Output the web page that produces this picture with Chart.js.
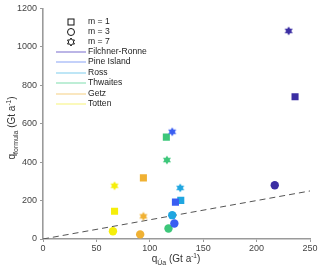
<!DOCTYPE html>
<html>
<head>
<meta charset="utf-8">
<script src="https://cdn.jsdelivr.net/npm/chart.js@4.4.0/dist/chart.umd.min.js"></script>
<style>
  html, body { margin: 0; padding: 0; background: #fff; }
  #wrap { width: 320px; height: 269px; }
</style>
</head>
<body>
<div id="wrap"><canvas id="qChart" width="320" height="269"></canvas></div>
<script>
// ice shelves, plotted in this order
const regions = ['Filchner-Ronne', 'Pine Island', 'Ross', 'Thwaites', 'Getz', 'Totten'];
const regionColors = ['#3b2ea3', '#3a5ef2', '#20a6e0', '#3dc77a', '#f0b133', '#f5ee0a'];
const legendLineColors = ['#8d84d6', '#9cb2f7', '#93d6f0', '#93e2bb', '#f6d795', '#f8f58e'];

// m = 1 (squares)
const qUa_m1 = [236, 124, 129, 115.5, 94, 67];
const qFormula_m1 = [740, 192, 201, 530, 318, 144];
// m = 3 (circles)
const qUa_m3 = [217, 123, 121, 117.5, 91, 65.5];
const qFormula_m3 = [280, 81, 124, 55, 24, 40];
// m = 7 (hexagrams)
const qUa_m7 = [230, 121, 128.5, 116, 94, 67];
const qFormula_m7 = [1083, 558, 266, 411, 118, 277];

// 1:1 reference line
const oneToOne = [0, 250];

const xTicks = [0, 50, 100, 150, 200, 250];
const yTicks = [0, 200, 400, 600, 800, 1000, 1200];

const FONT = 'Liberation Sans, Arial, sans-serif';

function hexagramPath(ctx, cx, cy, r) {
  const ri = r / Math.sqrt(3);
  ctx.beginPath();
  for (let k = 0; k < 12; k++) {
    const a = -Math.PI / 2 + k * Math.PI / 6;
    const rr = k % 2 === 0 ? r : ri;
    const px = cx + rr * Math.cos(a), py = cy + rr * Math.sin(a);
    if (k === 0) ctx.moveTo(px, py); else ctx.lineTo(px, py);
  }
  ctx.closePath();
}

function hexagramImage(color) {
  const c = document.createElement('canvas');
  c.width = 10; c.height = 10;
  const g = c.getContext('2d');
  hexagramPath(g, 5, 5, 4.6);
  g.fillStyle = color;
  g.fill();
  return c;
}

const datasets = [];
regions.forEach((name, i) => {
  datasets.push({
    label: name + ' m=1', data: [{ x: qUa_m1[i], y: qFormula_m1[i] }],
    pointStyle: 'rect', pointRadius: 5, backgroundColor: regionColors[i], borderColor: regionColors[i], borderWidth: 0
  });
  datasets.push({
    label: name + ' m=3', data: [{ x: qUa_m3[i], y: qFormula_m3[i] }],
    pointStyle: 'circle', pointRadius: 4.2, backgroundColor: regionColors[i], borderColor: regionColors[i], borderWidth: 0
  });
  datasets.push({
    label: name + ' m=7', data: [{ x: qUa_m7[i], y: qFormula_m7[i] }],
    pointStyle: hexagramImage(regionColors[i])
  });
});
datasets.push({
  type: 'line', label: '1:1',
  data: oneToOne.map(v => ({ x: v, y: v })),
  borderColor: '#555', borderWidth: 1, borderDash: [6, 4], pointRadius: 0, fill: false
});

// legend + axis titles with sub/superscripts
const decor = {
  id: 'decor',
  afterDraw(chart) {
    const ctx = chart.ctx;
    ctx.save();
    const lx0 = 56, lx1 = 86, tx = 88;
    const rowY = [22, 32, 42, 52, 62, 73, 83, 94, 104];
    const shapeLabels = ['m = 1', 'm = 3', 'm = 7'];
    ctx.font = '8.6px ' + FONT;
    ctx.textBaseline = 'middle';
    ctx.fillStyle = '#222';
    ctx.strokeStyle = '#111';
    ctx.lineWidth = 1;
    const mx = 71;
    // shapes
    ctx.strokeRect(mx - 3, rowY[0] - 3, 6, 6);
    ctx.beginPath(); ctx.arc(mx, rowY[1], 3.5, 0, Math.PI * 2); ctx.stroke();
    hexagramPath(ctx, mx, rowY[2], 4); ctx.stroke();
    shapeLabels.forEach((t, k) => ctx.fillText(t, tx, rowY[k]));
    regions.forEach((name, i) => {
      const y = rowY[3 + i];
      ctx.strokeStyle = legendLineColors[i];
      ctx.lineWidth = 1.2;
      ctx.beginPath(); ctx.moveTo(lx0, y); ctx.lineTo(lx1, y); ctx.stroke();
      ctx.fillText(name, tx, y);
    });

    // label pieces: [text, size, baseline offset]
    const parts = (sub) => [
      ['q', 10, 0], [sub, 7, 3], [' (Gt a', 10, 0], ['-1', 6.5, -4], [')', 10, 0]
    ];
    function drawParts(list, cx, cy) {
      let w = 0;
      list.forEach(p => { ctx.font = p[1] + 'px ' + FONT; w += ctx.measureText(p[0]).width; });
      let x = cx - w / 2;
      ctx.textBaseline = 'alphabetic';
      ctx.textAlign = 'left';
      list.forEach(p => {
        ctx.font = p[1] + 'px ' + FONT;
        ctx.fillText(p[0], x, cy + p[2]);
        x += ctx.measureText(p[0]).width;
      });
    }
    ctx.fillStyle = '#333';
    drawParts(parts('Úa'), 176, 262);
    ctx.translate(15, 128);
    ctx.rotate(-Math.PI / 2);
    drawParts(parts('formula'), 0, 0);
    ctx.restore();
  }
};

const axisBorder = { display: true, color: '#9a9a9a', width: 1.6 };
const tickFont = { family: FONT, size: 9 };
new Chart(document.getElementById('qChart'), {
  type: 'scatter',
  data: { datasets: datasets },
  plugins: [decor],
  options: {
    responsive: false,
    animation: false,
    layout: { padding: { top: 5, right: 10, left: 0, bottom: 0 } },
    plugins: { legend: { display: false }, tooltip: { enabled: false } },
    scales: {
      x: {
        type: 'linear', min: xTicks[0], max: xTicks[xTicks.length - 1],
        afterBuildTicks: s => { s.ticks = xTicks.map(v => ({ value: v })); },
        afterFit: s => { s.height = 30; },
        border: axisBorder,
        grid: { drawOnChartArea: false, drawTicks: true, tickLength: 3, color: '#9a9a9a' },
        ticks: { font: tickFont, color: '#444', padding: 1, maxRotation: 0, callback: v => String(v) }
      },
      y: {
        type: 'linear', min: yTicks[0], max: yTicks[yTicks.length - 1],
        afterBuildTicks: s => { s.ticks = yTicks.map(v => ({ value: v })); },
        afterFit: s => { s.width = 43; },
        border: axisBorder,
        grid: { drawOnChartArea: false, drawTicks: true, tickLength: 3, color: '#9a9a9a' },
        ticks: { font: tickFont, color: '#444', padding: 3, callback: v => String(v) }
      }
    }
  }
});
</script>
</body>
</html>
